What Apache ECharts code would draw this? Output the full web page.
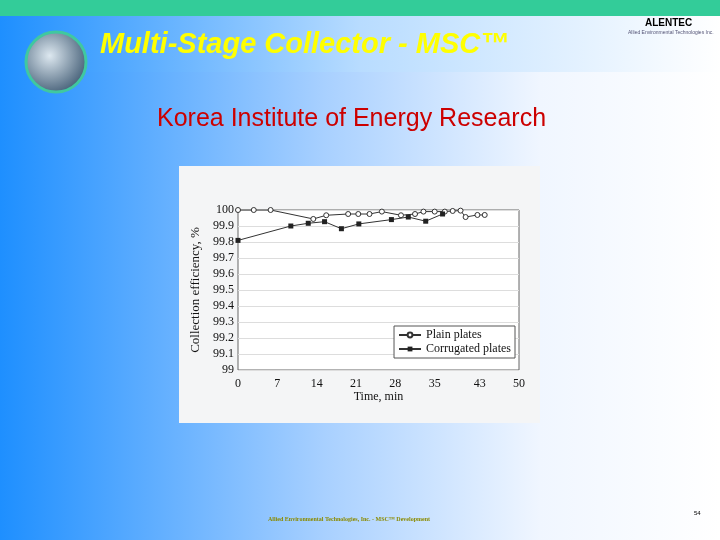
<!DOCTYPE html><html><head><meta charset="utf-8"><script src="https://cdn.jsdelivr.net/npm/echarts@6/dist/echarts.min.js"></script>
<style>html,body{margin:0;padding:0}#c{width:720px;height:540px}</style></head><body><div id="c"></div><script>
const plainTime=[0,2.8,5.8,13.4,15.7,19.6,21.4,23.4,25.6,29,31.5,33,35,36.8,38.2,39.6,40.5,42.6,43.9];
const plainEff=[100,100,100,99.944,99.967,99.975,99.975,99.975,99.99,99.967,99.975,99.99,99.99,99.99,99.994,99.996,99.956,99.969,99.969];
const corrTime=[0,9.4,12.5,15.4,18.4,21.5,27.3,30.3,33.4,36.4];
const corrEff=[99.81,99.90,99.917,99.927,99.883,99.913,99.94,99.956,99.93,99.975];
const xTicks=[0,7,14,21,28,35,43,50];
const ser='"Liberation Serif", serif';
const ch=echarts.init(document.getElementById('c'));
ch.setOption({
 animation:false,
 graphic:[
  {type:'rect',z:-10,shape:{x:0,y:0,width:720,height:540},style:{fill:new echarts.graphic.LinearGradient(0,0,1,0,[{offset:0,color:'#1e8fff'},{offset:0.45,color:'#a8d0ff'},{offset:0.75,color:'#f0f6ff'},{offset:1,color:'#ffffff'}])}},
  {type:'rect',z:-9,shape:{x:0,y:0,width:720,height:16},style:{fill:'#33cc99'}},
  {type:'rect',z:-9,shape:{x:0,y:16,width:720,height:56},style:{fill:new echarts.graphic.LinearGradient(0,0,1,0,[{offset:0,color:'#1e8fff'},{offset:0.5,color:'#b8dcff'},{offset:1,color:'#ffffff'}])}},
  {type:'circle',z:-8,shape:{cx:56,cy:62,r:30},style:{fill:new echarts.graphic.RadialGradient(0.4,0.4,0.7,[{offset:0,color:'#dde8f0'},{offset:1,color:'#34506a'}]),stroke:'#40c8a0',lineWidth:3}},
  {type:'text',left:100,top:30,style:{text:'Multi-Stage Collector - MSC™',fill:'#ffff00',font:'italic bold 29px "Liberation Sans", Arial'}},
  {type:'text',left:645,top:18,style:{text:'ALENTEC',fill:'#000',font:'bold 10px "Liberation Sans"'}},
  {type:'text',left:628,top:30,style:{text:'Allied Environmental Technologies Inc.',fill:'#557',font:'5px "Liberation Sans"'}},
  {type:'text',left:157,top:107,style:{text:'Korea Institute of Energy Research',fill:'#cc0000',font:'25px "Liberation Sans", Arial'}},
  {type:'rect',z:-5,shape:{x:179,y:166,width:361,height:257},style:{fill:'#f4f5f6'}},
  {type:'text',left:268,top:516,style:{text:'Allied Environmental Technologies, Inc. - MSC™ Development',fill:'#8a8a00',font:'bold 6px "Liberation Serif"'}},
  {type:'text',left:694,top:510,style:{text:'54',fill:'#000',font:'6px "Liberation Sans"'}}
 ],
 grid:{left:238,right:201,top:210,bottom:170,show:true,borderColor:'#666',borderWidth:1,backgroundColor:'#fff'},
 xAxis:{type:'value',min:0,max:50,name:'Time, min',nameLocation:'middle',nameGap:20,nameTextStyle:{fontFamily:ser,fontSize:12,color:'#111'},
  axisLine:{show:false},axisTick:{show:false},splitLine:{show:false},
  axisLabel:{customValues:xTicks,fontFamily:ser,fontSize:12,color:'#111'}},
 yAxis:{type:'value',min:99,max:100,interval:0.1,name:'Collection efficiency, %',nameLocation:'middle',nameGap:36,nameTextStyle:{fontFamily:ser,fontSize:13,color:'#111'},
  axisLine:{show:false},axisTick:{show:false},splitLine:{lineStyle:{color:'#ddd'}},
  axisLabel:{fontFamily:ser,fontSize:12,color:'#111',margin:4,formatter:v=>Math.abs(v-100)<1e-6?'100':(Math.abs(v-99)<1e-6?'99':v.toFixed(1))}},
 legend:{right:205,bottom:182,orient:'vertical',itemGap:2,itemWidth:22,itemHeight:6,backgroundColor:'#fff',borderColor:'#555',borderWidth:1,padding:[3,4],
  textStyle:{fontFamily:ser,fontSize:12,color:'#111'}},
 series:[
  {name:'Plain plates',type:'line',data:plainTime.map((t,i)=>[t,plainEff[i]]),symbol:'circle',symbolSize:5,itemStyle:{color:'#fff',borderColor:'#333',borderWidth:1},lineStyle:{color:'#333',width:1}},
  {name:'Corrugated plates',type:'line',data:corrTime.map((t,i)=>[t,corrEff[i]]),symbol:'rect',symbolSize:5,itemStyle:{color:'#222'},lineStyle:{color:'#333',width:1}}
 ]
});
</script></body></html>
